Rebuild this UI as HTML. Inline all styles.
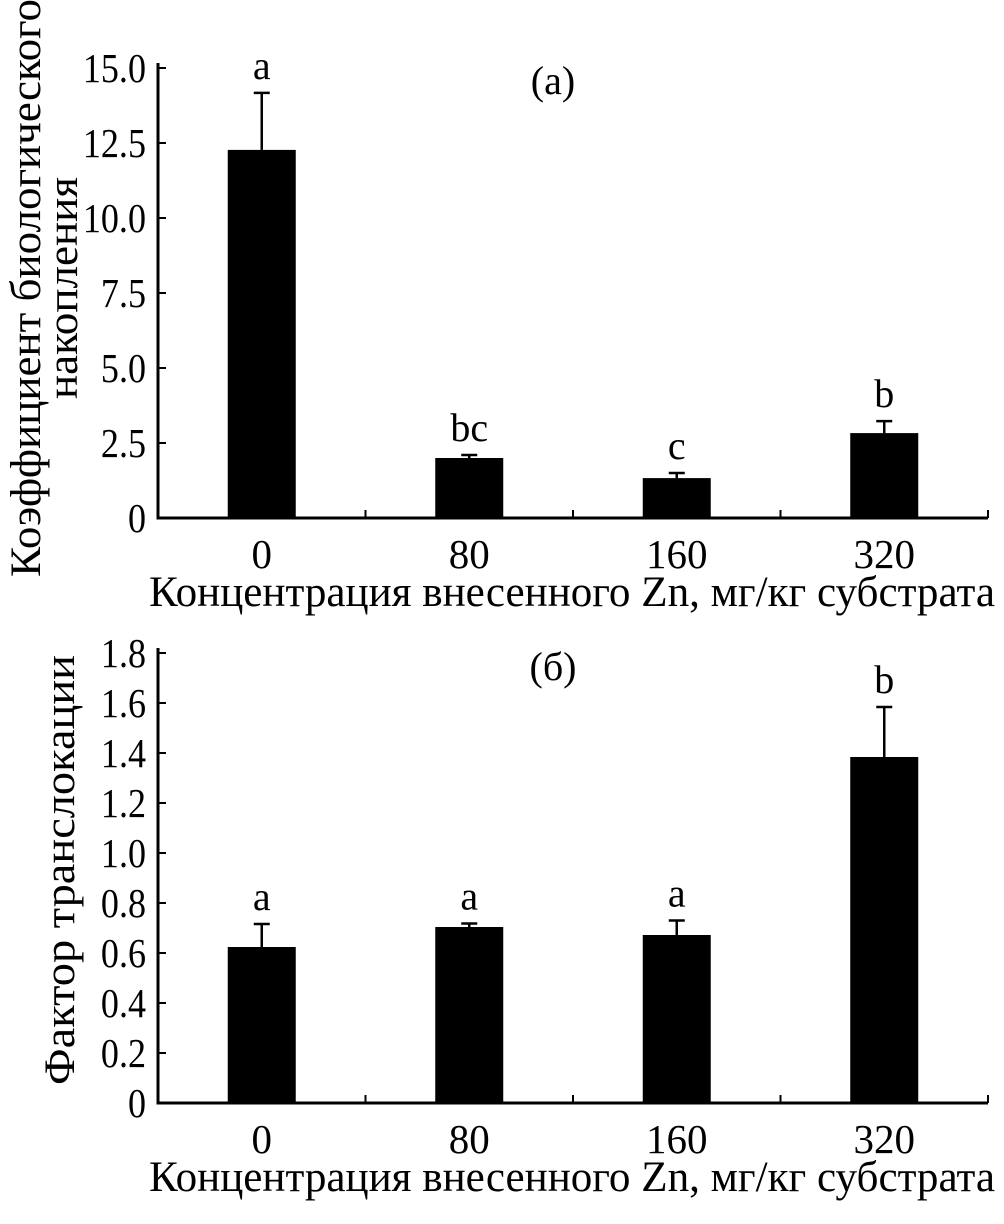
<!DOCTYPE html>
<html><head><meta charset="utf-8"><style>
body{margin:0;background:#fff}
svg{display:block;font-family:"Liberation Serif",serif}
</style></head><body>
<svg id="c" width="1004" height="1224"></svg>
<script>
const categories=["0","80","160","320"];
const valuesA=[12.27,2.0,1.33,2.83];
const errorsA=[1.9,0.1,0.17,0.4];
const lettersA=["a","bc","c","b"];
const ticksA=[0,2.5,5.0,7.5,10.0,12.5,15.0];
const tickLabelsA=["0","2.5","5.0","7.5","10.0","12.5","15.0"];
const valuesB=[0.624,0.704,0.672,1.384];
const errorsB=[0.092,0.014,0.058,0.2];
const lettersB=["a","a","a","b"];
const ticksB=[0,0.2,0.4,0.6,0.8,1.0,1.2,1.4,1.6,1.8];
const tickLabelsB=["0","0.2","0.4","0.6","0.8","1.0","1.2","1.4","1.6","1.8"];
const NS="http://www.w3.org/2000/svg";
const svg=document.getElementById('c');
function el(t,a,p){const e=document.createElementNS(NS,t);for(const k in a)e.setAttribute(k,a[k]);(p||svg).appendChild(e);return e;}
function panel(o){
  const g=el('g',{});
  
  
  const x0=158,x1=988,y0=o.y0,yT=o.yTop,max=o.max;
  const ys=v=>y0-(v/max)*(y0-yT);
  const bw=(x1-x0)/categories.length;
  const xc=i=>x0+bw*(i+0.5);
  const ax=el('path',{d:`M${x0} ${yT-5}V${y0}H${x1}`,stroke:'#000','stroke-width':3,fill:'none'},g);
  
  
  o.ticks.forEach((t,i)=>{
    el('line',{x1:x0,x2:x0+8,y1:ys(t),y2:ys(t),stroke:'#000','stroke-width':2},g);
    const tx=el('text',{x:0,y:0,'text-anchor':'end','font-size':41,transform:`translate(${x0-12},${ys(t)+14}) scale(0.88,1)`},g);
    tx.textContent=o.tickLabels[i];
    
    
  });
  for(let i=1;i<=categories.length;i++)el('line',{x1:x0+bw*i,x2:x0+bw*i,y1:y0,y2:y0-8,stroke:'#000','stroke-width':2},g);
  categories.forEach((c,i)=>{
    const v=o.values[i],e=o.errors[i];
    el('line',{x1:xc(i),x2:xc(i),y1:ys(v),y2:ys(v+e),stroke:'#000','stroke-width':2.5},g);
    el('line',{x1:xc(i)-8,x2:xc(i)+8,y1:ys(v+e),y2:ys(v+e),stroke:'#000','stroke-width':2.5},g);
    const r=el('rect',{x:xc(i)-34,y:ys(v),width:68,height:y0-ys(v),fill:'#000'},g);
    
    
    const l=el('text',{x:xc(i),y:ys(v+e)-14,'text-anchor':'middle','font-size':40},g);
    l.textContent=o.letters[i];
    
    
    const xl=el('text',{x:xc(i),y:y0+50,'text-anchor':'middle','font-size':41},g);
    xl.textContent=c;
    
    
  });
  const xt=el('text',{x:572,y:y0+88,'text-anchor':'middle','font-size':43,textLength:846,lengthAdjust:'spacingAndGlyphs'},g);
  xt.textContent="Концентрация внесенного Zn, мг/кг субстрата";
  
  
  const pl=el('text',{x:553,y:o.labelY,'text-anchor':'middle','font-size':40},g);
  pl.textContent=o.label;
  
  
  o.ytitle.forEach((t,i)=>{
    const yt=el('text',{'text-anchor':'middle','font-size':43,transform:`translate(${o.ytx[i]},${o.yty}) rotate(-90)`},g);
    if(o.ylen[i]){yt.setAttribute('textLength',o.ylen[i]);yt.setAttribute('lengthAdjust','spacingAndGlyphs');}
    yt.textContent=t;
    
    
  });
}
panel({name:'chart-a',y0:518,yTop:68,max:15,ticks:ticksA,tickLabels:tickLabelsA,values:valuesA,errors:errorsA,letters:lettersA,label:'(a)',labelY:94,ytitle:['Коэффициент биологического','накопления'],ytx:[40,77],yty:288,ylen:[578,222]});
panel({name:'chart-b',y0:1103,yTop:653,max:1.8,ticks:ticksB,tickLabels:tickLabelsB,values:valuesB,errors:errorsB,letters:lettersB,label:'(б)',labelY:680,ytitle:['Фактор транслокации'],ytx:[74],yty:870,ylen:[430]});
</script>
</body></html>
